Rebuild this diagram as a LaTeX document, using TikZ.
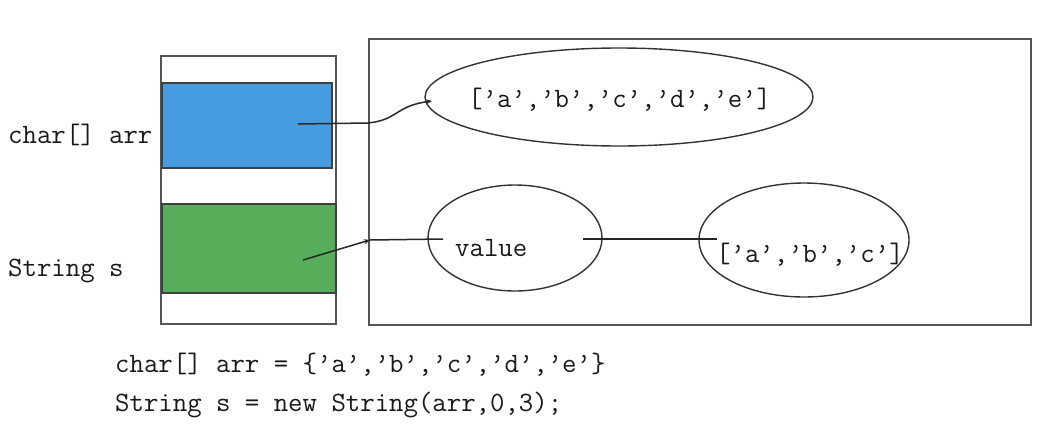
\documentclass[tikz,border=0pt]{standalone}
\usepackage{fontspec}
\usetikzlibrary{shapes.geometric,arrows.meta}
\definecolor{cellblue}{RGB}{70,156,222}
\definecolor{cellgreen}{RGB}{87,174,90}
\definecolor{edgegray}{RGB}{85,85,85}
\tikzset{
  box/.style={draw=edgegray, line width=2pt, anchor=north west, inner sep=0pt},
  oval/.style={draw=black!80, line width=1.4pt, ellipse, inner sep=0pt},
  txt/.style={font=\ttfamily\fontsize{28}{32}\selectfont, inner sep=0pt, anchor=base west, text=black!90},
  link/.style={draw=black!85, line width=1.5pt},
}
\begin{document}
\begin{tikzpicture}[x=1pt,y=-1pt]
\useasboundingbox (0,0) rectangle (1056,434);
% stack
\node[box, minimum width=175pt, minimum height=268pt] (stack) at (160,55) {};
\node[box, fill=cellblue, draw=black!75, minimum width=170pt, minimum height=85pt] (blue) at (161,82) {};
\node[box, fill=cellgreen, draw=black!75, minimum width=174pt, minimum height=89pt] (green) at (161,203) {};
% heap
\node[box, minimum width=662pt, minimum height=286pt] (heap) at (368,38) {};
\node[oval, minimum width=388pt, minimum height=98pt] (big) at (619,97) {};
\node[oval, minimum width=174pt, minimum height=106pt] (val) at (515,238) {};
\node[oval, minimum width=210pt, minimum height=114pt] (sub) at (804,240) {};
% texts
\node[txt] (arrlbl) at (8,143) {char[] arr};
\node[txt] (slbl) at (8,276) {String s};
\node[txt] (bigtxt) at (468,107) {[’a’,’b’,’c’,’d’,’e’]};
\node[txt] (valtxt) at (455,256) {value};
\node[txt] (subtxt) at (716,262) {[’a’,’b’,’c’]};
\node[txt] (code1) at (115,372) {char[] arr = \{’a’,’b’,’c’,’d’,’e’\}};
\node[txt] (code2) at (115,411) {String s = new String(arr,0,3);};
% connector anchors
\coordinate (p1) at (298,124);
\coordinate (p2) at (368,123);
\coordinate (p3) at (432,101);
\coordinate (q1) at (303,260);
\coordinate (q2) at (370,240);
\coordinate (q3) at (443,239);
\coordinate (r1) at (583,239);
\coordinate (r2) at (717,239);
% connectors
\draw[link, -{Stealth[length=6pt,width=5pt]}] (p1) -- (p2) .. controls (398,120) and (395,106) .. (p3);
\draw[link, -{Stealth[length=6pt,width=5pt]}] (q1) -- (q2);
\draw[link] (q2) -- (q3);
\draw[link] (r1) -- (r2);
\end{tikzpicture}
\end{document}
